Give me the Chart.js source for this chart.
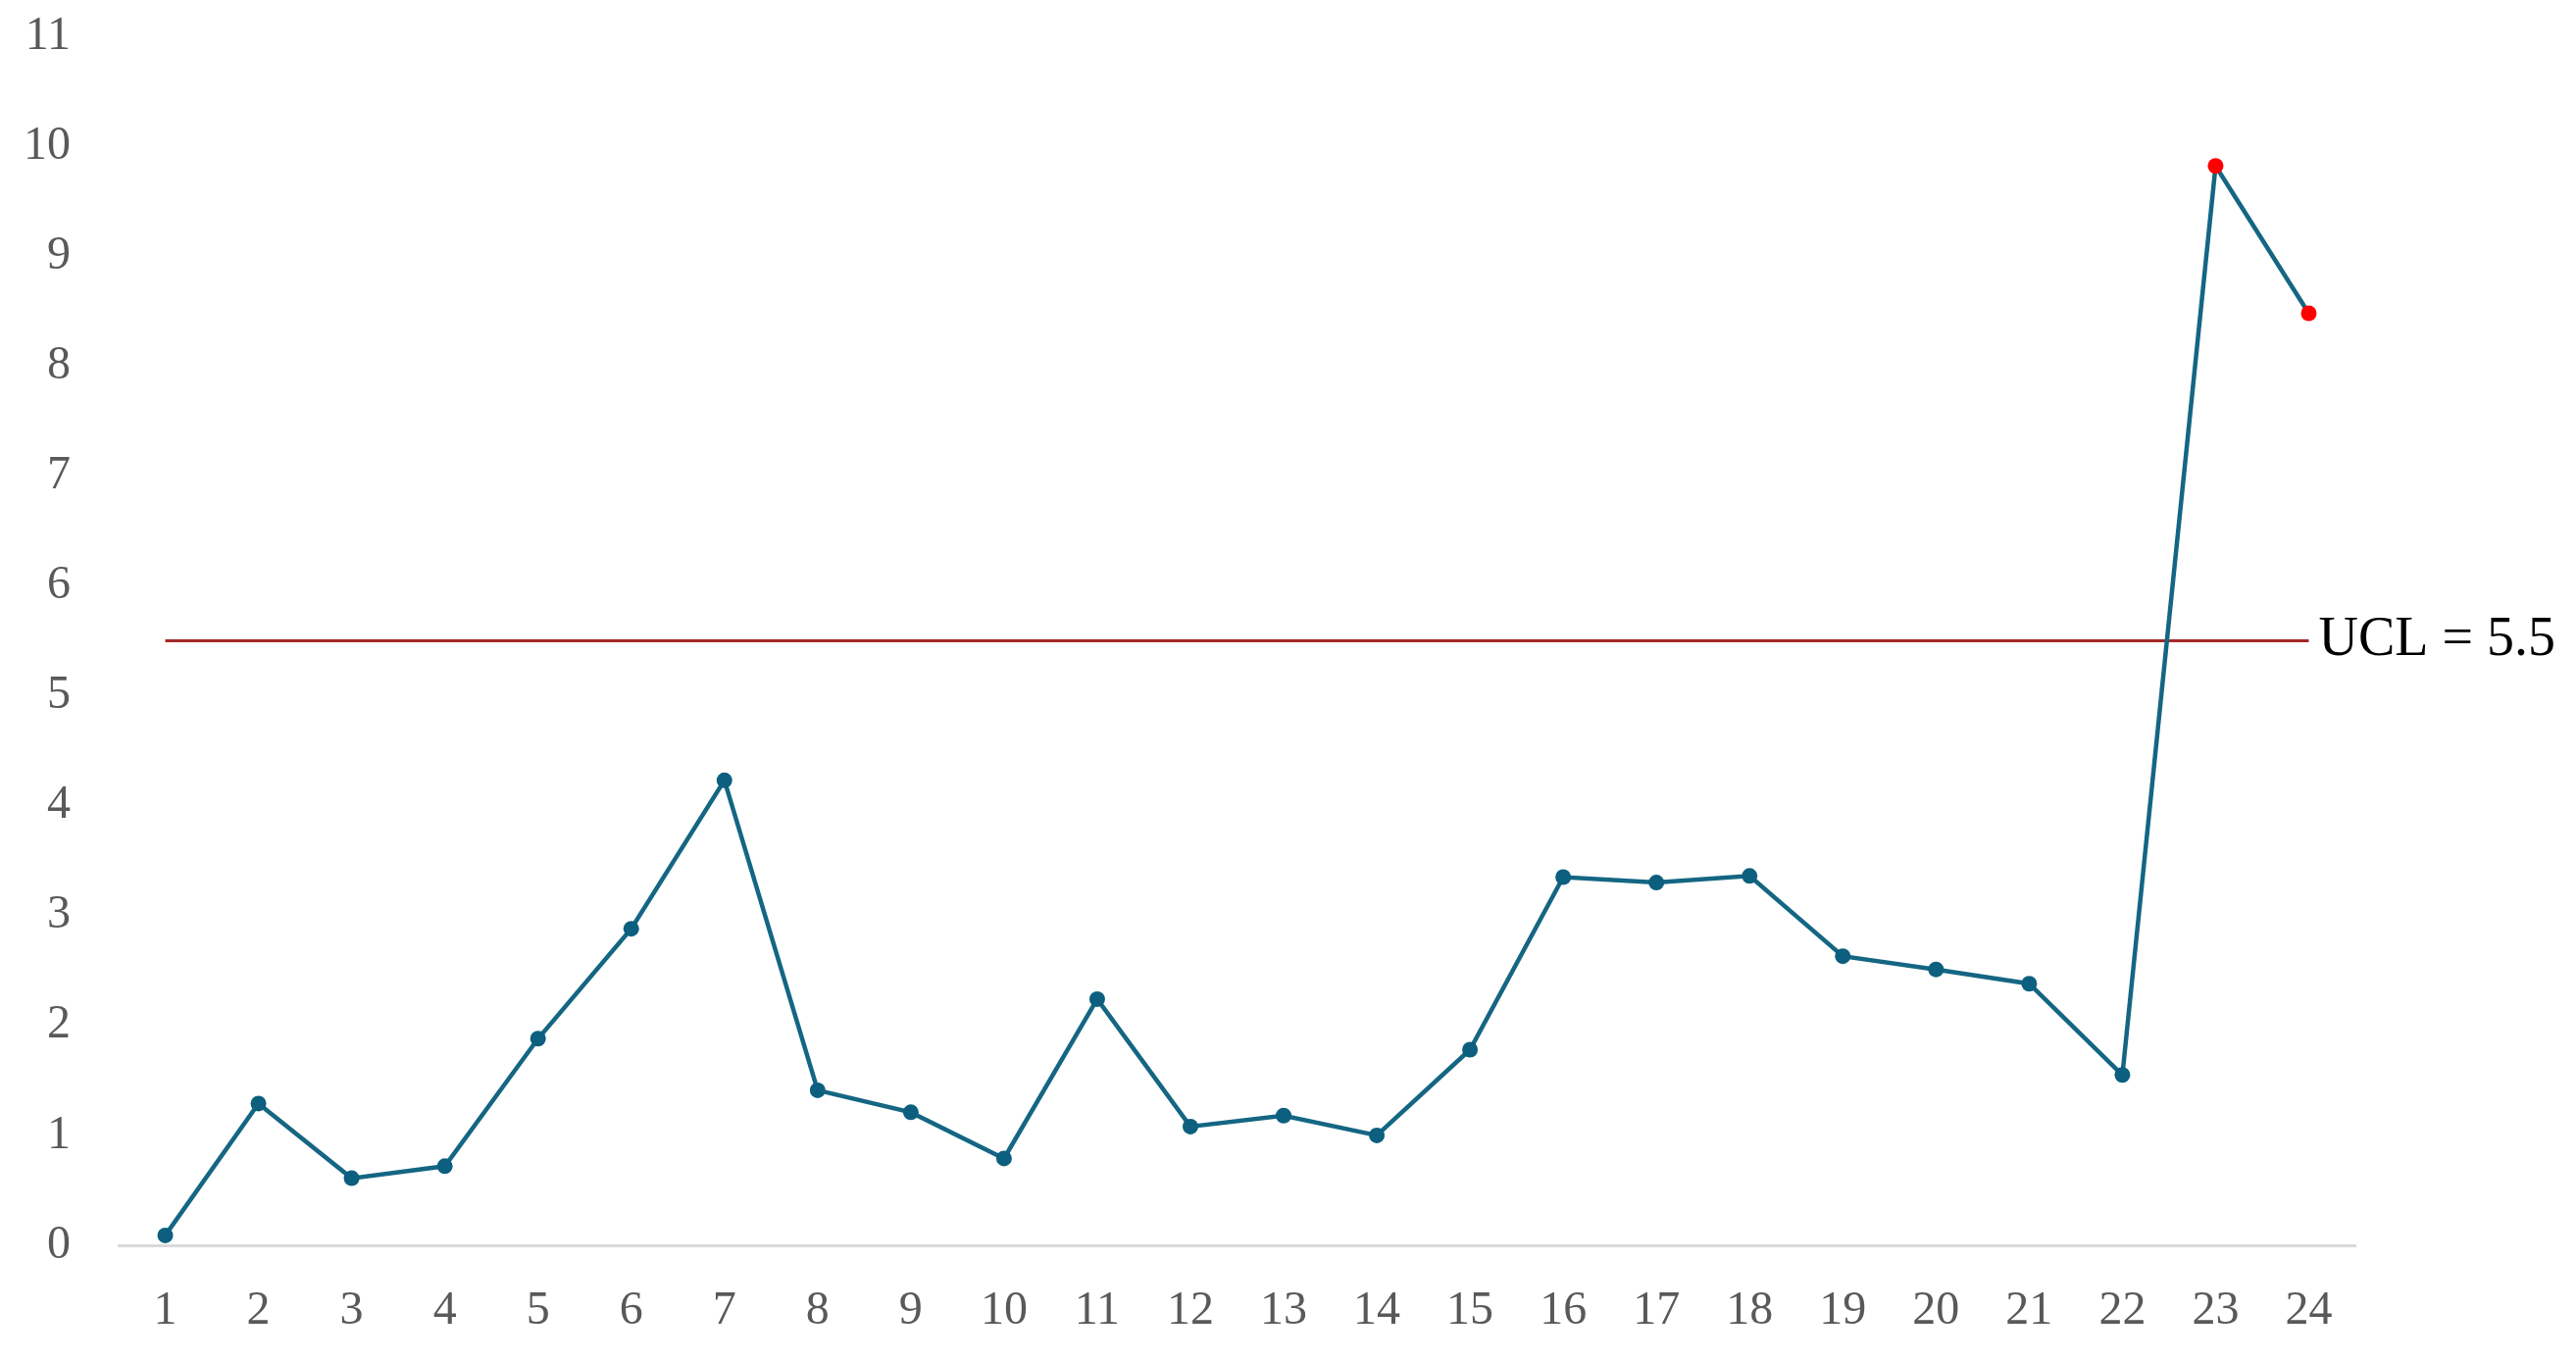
<!DOCTYPE html>
<html>
<head>
<meta charset="utf-8">
<script src="https://cdn.jsdelivr.net/npm/chart.js@4.4.0/dist/chart.umd.min.js"></script>
<style>
    html, body { margin: 0; padding: 0; background: #ffffff; }
    #box { width: 2627px; height: 1388px; }
</style>
</head>
<body>
<div id="box"><canvas id="ctrlChart"></canvas></div>
<script>
// 資料
let Samples = ['1','2','3','4','5','6','7','8','9','10','11','12','13','14','15','16','17','18','19','20','21','22','23','24']
let Values = [0.09, 1.29, 0.61, 0.72, 1.88, 2.88, 4.23, 1.41, 1.21, 0.79, 2.24, 1.08, 1.18, 1.00, 1.78, 3.35, 3.30, 3.36, 2.63, 2.51, 2.38, 1.55, 9.82, 8.48]
let OutOfControl = [23, 24] // 超出UCL的樣本
let UCL = 5.5
let UCLLine = Samples.map(() => UCL)
let YTicks = [0, 1, 2, 3, 4, 5, 6, 7, 8, 9, 10, 11]

let lineColor = '#146683'
let tickColor = '#595959'
let fontName = '"Liberation Serif", "DejaVu Serif", serif'

// 點顏色 (超出管制的為紅色)
let pointColors = Samples.map(s => OutOfControl.includes(Number(s)) ? '#ff0000' : '#0c5f7e')

// UCL文字
const uclLabel = {
    id: 'uclLabel',
    afterDatasetsDraw(chart) {
        const ctx = chart.ctx
        const xs = chart.scales.x
        const ys = chart.scales.y
        const x = xs.getPixelForValue(Samples.length - 1) + 10
        const y = ys.getPixelForValue(UCL)
        ctx.save()
        ctx.font = '56px ' + fontName
        ctx.fillStyle = '#000000'
        ctx.textAlign = 'left'
        ctx.textBaseline = 'middle'
        ctx.fillText('UCL = ' + UCL, x, y)
        ctx.restore()
    }
}

var ctx = document.getElementById('ctrlChart').getContext('2d')
var ctrlChart = new Chart(ctx, {
    type: 'line',
    data: {
        labels: Samples,
        datasets: [
            {
                label: 'UCL',
                data: UCLLine,
                borderColor: '#a62828',
                borderWidth: 3,
                pointRadius: 0,
                tension: 0,
                order: 2
            },
            {
                label: 'Value',
                data: Values,
                borderColor: lineColor,
                borderWidth: 4.5,
                pointRadius: 8,
                pointBackgroundColor: pointColors,
                pointBorderColor: pointColors,
                pointBorderWidth: 0,
                tension: 0,
                order: 1
            }
        ]
    },
    options: {
        responsive: true,
        maintainAspectRatio: false,
        animation: false,
        layout: {
            padding: { top: 0, right: 225, bottom: 0, left: 0 }
        },
        plugins: {
            legend: { display: false },
            tooltip: { enabled: false }
        },
        scales: {
            x: {
                offset: true,
                grid: { display: false, drawTicks: false },
                border: { display: true, color: '#d9d9d9', width: 3 },
                ticks: {
                    color: tickColor,
                    font: { family: fontName, size: 48 },
                    padding: 39,
                    maxRotation: 0,
                    autoSkip: false
                },
                afterFit: function(scale) { scale.height = 118 }
            },
            y: {
                min: YTicks[0],
                max: YTicks[YTicks.length - 1],
                grid: { display: false, drawTicks: false },
                border: { display: false },
                ticks: {
                    stepSize: 1,
                    color: tickColor,
                    font: { family: fontName, size: 48 },
                    padding: 49
                },
                afterFit: function(scale) {
                    scale.width = 121
                    scale.paddingTop = 37
                    scale.paddingBottom = 0
                }
            }
        }
    },
    plugins: [uclLabel]
})
</script>
</body>
</html>
